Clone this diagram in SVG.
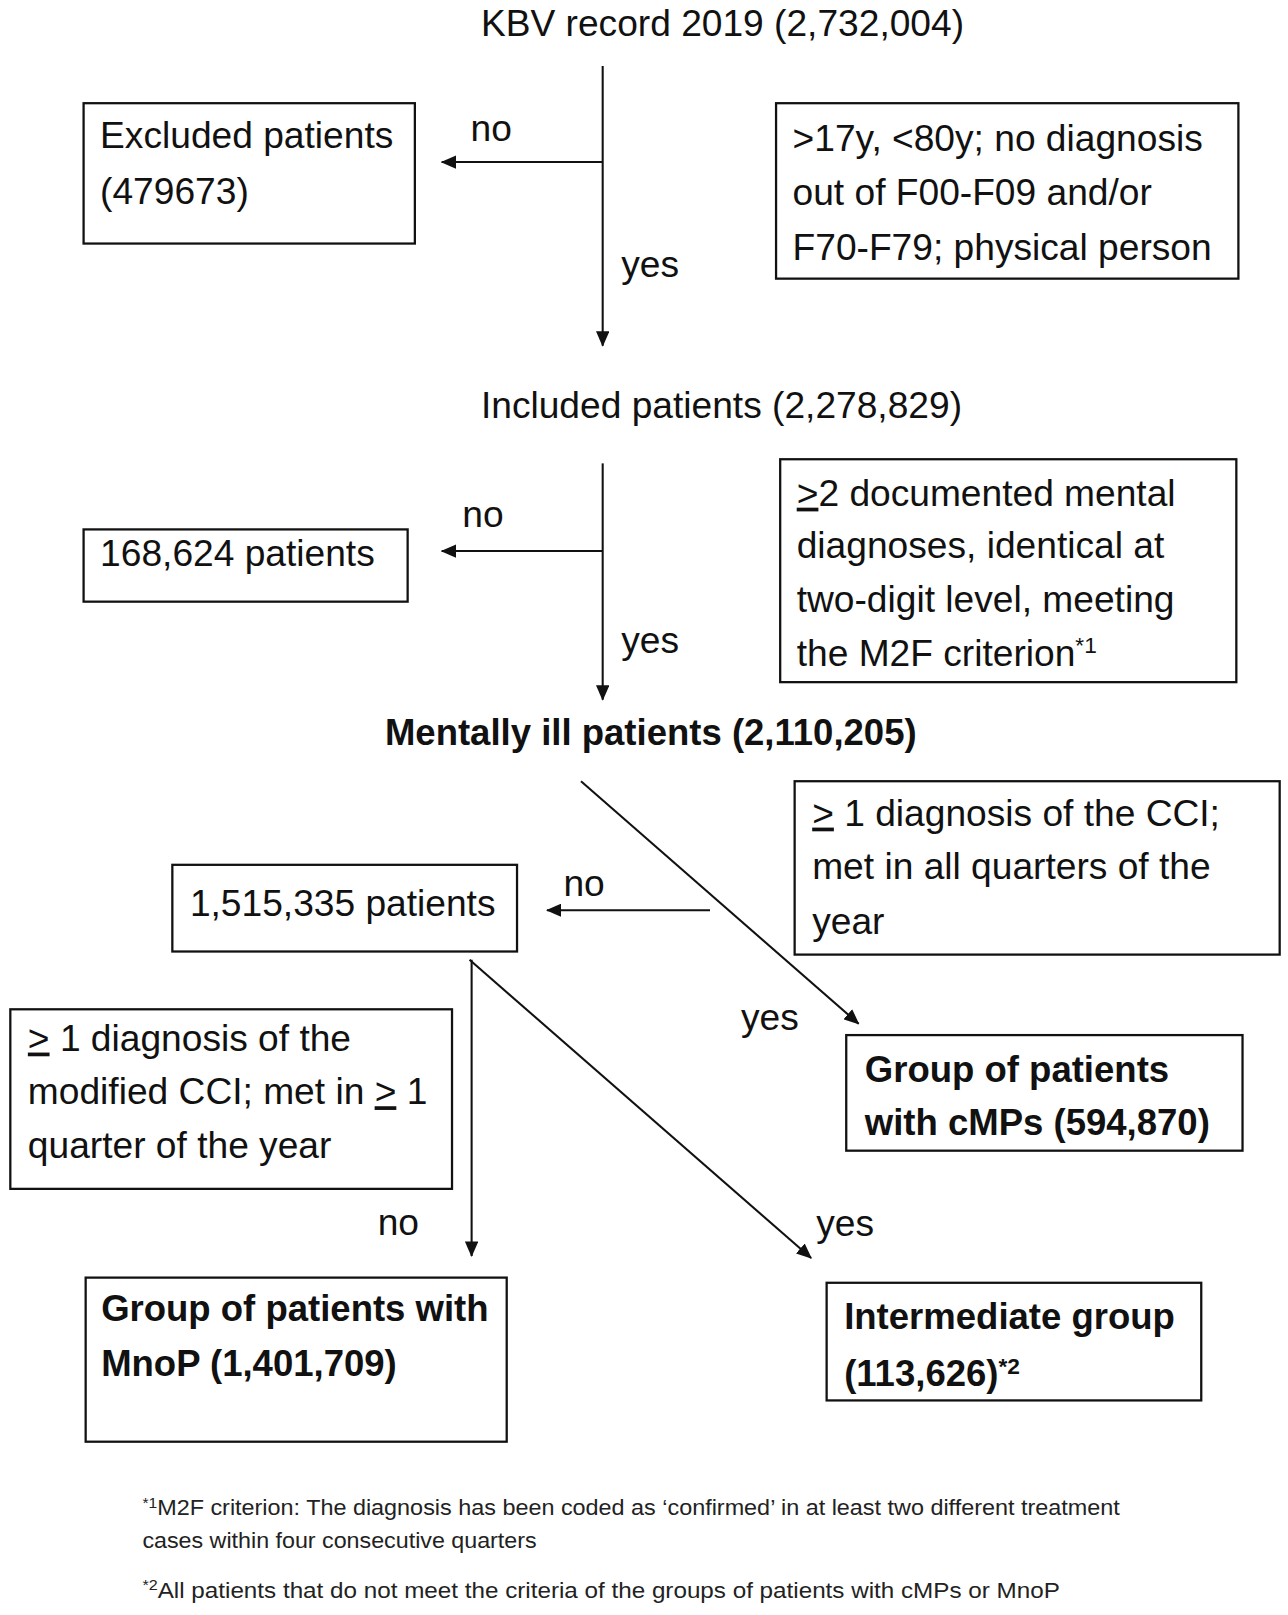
<svg xmlns="http://www.w3.org/2000/svg" width="1288" height="1615" viewBox="0 0 1288 1615">
<style>
text{font-family:"Liberation Sans",Arial,sans-serif;font-size:36px;fill:#111}
.b{font-weight:bold;font-size:35.4px}
.box{fill:#fff;stroke:#111;stroke-width:2.2}
.conn{stroke:#111;stroke-width:2;fill:none}
.fn{font-size:21px;fill:#222}
.u{text-decoration:underline}
.sup{font-size:22px}
</style>
<defs>
<marker id="ah" markerUnits="userSpaceOnUse" markerWidth="15" markerHeight="13" refX="14" refY="6.5" orient="auto">
<path d="M0,0 L15,6.5 L0,13 z" fill="#111"/>
</marker>
</defs>
<rect width="1288" height="1615" fill="#fff"/>
<g transform="scale(1.032)">
<g id="connectors">
<line class="conn" x1="584" y1="64" x2="584" y2="335" marker-end="url(#ah)"/>
<line class="conn" x1="584" y1="157" x2="428" y2="157" marker-end="url(#ah)"/>
<line class="conn" x1="584" y1="449" x2="584" y2="678" marker-end="url(#ah)"/>
<line class="conn" x1="584" y1="534" x2="428" y2="534" marker-end="url(#ah)"/>
<line class="conn" x1="563" y1="757" x2="832" y2="992" marker-end="url(#ah)"/>
<line class="conn" x1="688" y1="882" x2="530" y2="882" marker-end="url(#ah)"/>
<line class="conn" x1="457" y1="930" x2="457" y2="1217" marker-end="url(#ah)"/>
<line class="conn" x1="455" y1="930" x2="786" y2="1219" marker-end="url(#ah)"/>
<text x="456" y="137">no</text>
<text x="602" y="268">yes</text>
<text x="448" y="511">no</text>
<text x="602" y="633">yes</text>
<text x="546" y="868">no</text>
<text x="718" y="998">yes</text>
<text x="366" y="1197">no</text>
<text x="791" y="1198">yes</text>
</g>
<g id="kbv"><text x="466" y="35">KBV record 2019 (2,732,004)</text></g>
<g id="excluded">
<rect class="box" x="81" y="100" width="321" height="136"/>
<text x="97" y="143">Excluded patients</text>
<text x="97" y="198">(479673)</text>
</g>
<g id="crit1">
<rect class="box" x="752" y="100" width="448" height="170"/>
<text x="768" y="146">&gt;17y, &lt;80y; no diagnosis</text>
<text x="768" y="199">out of F00-F09 and/or</text>
<text x="768" y="252">F70-F79; physical person</text>
</g>
<g id="included"><text x="466" y="405">Included patients (2,278,829)</text></g>
<g id="p168">
<rect class="box" x="81" y="513" width="314" height="70"/>
<text x="97" y="548">168,624 patients</text>
</g>
<g id="crit2">
<rect class="box" x="756" y="445" width="442" height="216"/>
<text x="772" y="490"><tspan class="u">&gt;</tspan>2 documented mental</text>
<text x="772" y="541">diagnoses, identical at</text>
<text x="772" y="593">two-digit level, meeting</text>
<text x="772" y="645">the M2F criterion<tspan class="sup" dy="-12">*1</tspan></text>
</g>
<g id="mental"><text class="b" x="373" y="722">Mentally ill patients (2,110,205)</text></g>
<g id="p1515">
<rect class="box" x="167" y="838" width="334" height="84"/>
<text x="184" y="888">1,515,335 patients</text>
</g>
<g id="crit3">
<rect class="box" x="770" y="757" width="470" height="168"/>
<text x="787" y="800"><tspan class="u">&gt;</tspan> 1 diagnosis of the CCI;</text>
<text x="787" y="852">met in all quarters of the</text>
<text x="787" y="905">year</text>
</g>
<g id="cmps">
<rect class="box" x="820" y="1003" width="384" height="112"/>
<text class="b" x="838" y="1048">Group of patients</text>
<text class="b" x="838" y="1100">with cMPs (594,870)</text>
</g>
<g id="crit4">
<rect class="box" x="10" y="978" width="428" height="174"/>
<text x="27" y="1018"><tspan class="u">&gt;</tspan> 1 diagnosis of the</text>
<text x="27" y="1070">modified CCI; met in <tspan class="u">&gt;</tspan> 1</text>
<text x="27" y="1122">quarter of the year</text>
</g>
<g id="mnop">
<rect class="box" x="83" y="1238" width="408" height="159"/>
<text class="b" x="98" y="1280">Group of patients with</text>
<text class="b" x="98" y="1333">MnoP (1,401,709)</text>
</g>
<g id="intermediate">
<rect class="box" x="801" y="1243" width="363" height="114"/>
<text class="b" x="818" y="1288">Intermediate group</text>
<text class="b" x="818" y="1343">(113,626)<tspan class="sup" dy="-12">*2</tspan></text>
</g>
<g id="footnotes">
<text class="fn" x="138" y="1468" textLength="947" lengthAdjust="spacingAndGlyphs"><tspan font-size="14" dy="-7">*1</tspan><tspan dy="7">M2F criterion: The diagnosis has been coded as ‘confirmed’ in at least two different treatment</tspan></text>
<text class="fn" x="138" y="1500" textLength="382" lengthAdjust="spacingAndGlyphs">cases within four consecutive quarters</text>
<text class="fn" x="138" y="1548" textLength="889" lengthAdjust="spacingAndGlyphs"><tspan font-size="14" dy="-7">*2</tspan><tspan dy="7">All patients that do not meet the criteria of the groups of patients with cMPs or MnoP</tspan></text>
</g>
</g>
</svg>
